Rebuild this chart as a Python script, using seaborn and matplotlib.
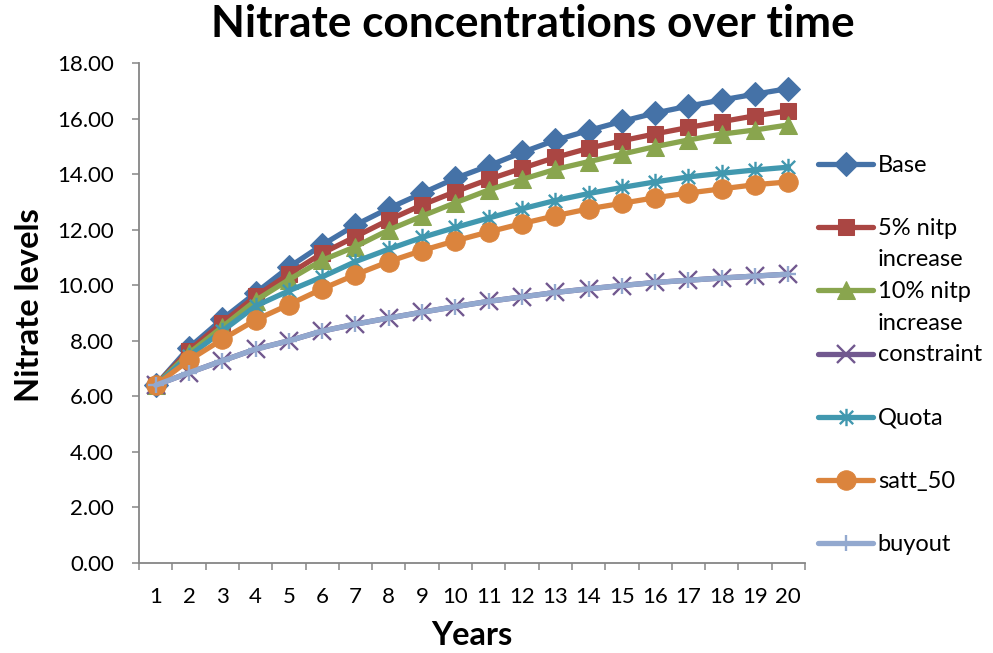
import numpy as np
import pandas as pd
import matplotlib
matplotlib.use("Agg")
import matplotlib.pyplot as plt
from matplotlib.path import Path
import seaborn as sns

years = list(range(1, 21))
base = [6.40, 7.75, 8.78, 9.72, 10.65, 11.45, 12.17, 12.77, 13.31, 13.85,
        14.30, 14.78, 15.22, 15.57, 15.90, 16.20, 16.45, 16.67, 16.88, 17.08]
nitp5 = [6.40, 7.65, 8.65, 9.60, 10.40, 11.15, 11.75, 12.35, 12.89, 13.37,
         13.81, 14.21, 14.60, 14.93, 15.20, 15.45, 15.68, 15.89, 16.10, 16.28]
nitp10 = [6.40, 7.55, 8.50, 9.45, 10.20, 10.90, 11.39, 11.99, 12.49, 12.97,
          13.43, 13.81, 14.17, 14.45, 14.72, 14.99, 15.23, 15.44, 15.59, 15.77]
constraint = [6.40, 6.85, 7.28, 7.70, 8.00, 8.35, 8.60, 8.82, 9.03, 9.23,
              9.42, 9.58, 9.74, 9.87, 9.99, 10.10, 10.18, 10.26, 10.33, 10.40]
quota = [6.40, 7.45, 8.35, 9.25, 9.80, 10.30, 10.85, 11.30, 11.72, 12.08,
         12.42, 12.75, 13.05, 13.30, 13.52, 13.72, 13.90, 14.03, 14.15, 14.25]
satt50 = [6.40, 7.30, 8.05, 8.75, 9.30, 9.87, 10.38, 10.85, 11.25, 11.60,
          11.92, 12.22, 12.50, 12.75, 12.95, 13.15, 13.32, 13.47, 13.62, 13.72]
buyout = [6.40, 6.85, 7.28, 7.70, 8.00, 8.35, 8.60, 8.82, 9.03, 9.23,
          9.42, 9.58, 9.74, 9.87, 9.99, 10.10, 10.18, 10.26, 10.33, 10.40]

series_names = ["Base", "5% nitp increase", "10% nitp increase", "constraint",
                "Quota", "satt_50", "buyout"]
legend_labels = ["Base\n ", "5% nitp\nincrease", "10% nitp\nincrease",
                 "constraint\n ", "Quota\n ", "satt_50\n ", "buyout\n "]
series_values = [base, nitp5, nitp10, constraint, quota, satt50, buyout]
colors = ["#4572A7", "#AA4643", "#89A54E", "#71588F", "#4198AF", "#DB843D", "#93A9CF"]
y_ticks = [0, 2, 4, 6, 8, 10, 12, 14, 16, 18]

# Excel-like asterisk marker: an X with a vertical bar
asterisk = Path([(-1, -1), (1, 1), (-1, 1), (1, -1), (0, -1.3), (0, 1.3)],
                [Path.MOVETO, Path.LINETO, Path.MOVETO, Path.LINETO, Path.MOVETO, Path.LINETO])
marker_specs = [
    dict(marker="D", markersize=12),
    dict(marker="s", markersize=12),
    dict(marker="^", markersize=13.5),
    dict(marker="x", markersize=12.5, markeredgewidth=1.7),
    dict(marker=asterisk, markersize=12.5, markeredgewidth=1.7),
    dict(marker="o", markersize=14),
    dict(marker="+", markersize=11, markeredgewidth=1.7),
]

df = pd.DataFrame({
    "Year": np.tile(years, len(series_names)),
    "Series": np.repeat(series_names, len(years)),
    "Value": np.concatenate(series_values),
})

sns.set_style("white")
plt.rcParams["font.family"] = ["Lato", "DejaVu Sans"]
plt.rcParams["text.color"] = "black"
plt.rcParams["axes.labelcolor"] = "black"

fig = plt.figure(figsize=(9.93, 6.53), dpi=100)
ax = fig.add_axes([0.140, 0.1378, 0.6707, 0.7657])

handles = []
for name, col, spec in zip(series_names, colors, marker_specs):
    sub = df[df["Series"] == name]
    sns.lineplot(data=sub, x="Year", y="Value", ax=ax, color=col, linewidth=3.8,
                 markeredgecolor=col, markerfacecolor=col, legend=False, **spec)
    handles.append(ax.get_lines()[-1])

ax.set_xlim(0.5, 20.5)
ax.set_ylim(0, 18)
ax.set_xticks(years)
ax.set_xticklabels([str(y) for y in years])
ax.set_xticks(np.arange(0.5, 21, 1), minor=True)
ax.set_yticks(y_ticks)
ax.set_yticklabels([f"{v:.2f}" for v in y_ticks])

gray = "#868686"
for s in ["top", "right"]:
    ax.spines[s].set_visible(False)
for s in ["left", "bottom"]:
    ax.spines[s].set_color(gray)
    ax.spines[s].set_linewidth(1.3)
ax.tick_params(axis="y", which="major", direction="out", length=5, width=1.1,
               color=gray, pad=13, labelsize=16, labelcolor="black", left=True)
ax.tick_params(axis="x", which="major", length=0, pad=17, labelsize=16, labelcolor="black")
ax.tick_params(axis="x", which="minor", direction="out", length=5, width=1.1,
               color=gray, bottom=True)
ax.grid(False)

ax.set_xlabel("Years", fontsize=23.5, fontweight="bold", color="black")
ax.set_ylabel("Nitrate levels", fontsize=23.5, fontweight="bold", color="black")
ax.xaxis.label.set_va("center")
ax.yaxis.label.set_va("center")
ax.xaxis.set_label_coords(0.5, -0.144)
ax.yaxis.set_label_coords(-0.164, 0.516)

fig.text(0.5363, 0.9433, "Nitrate concentrations over time", fontsize=31.8,
         fontweight="bold", ha="center", va="baseline", color="black")

leg = ax.legend(handles, legend_labels, loc="upper left",
                bbox_to_anchor=(0.8238, 0.763), bbox_transform=fig.transFigure,
                frameon=False, fontsize=17, handlelength=2.33, handletextpad=0.2,
                borderpad=0, borderaxespad=0, labelspacing=0.45, handleheight=1.0)
for t in leg.get_texts():
    t.set_linespacing(1.62)
    t.set_color("black")
for colbox in leg._legend_handle_box.get_children():
    for item in colbox.get_children():
        item.align = "top"

fig.savefig("out.png", dpi=100)
